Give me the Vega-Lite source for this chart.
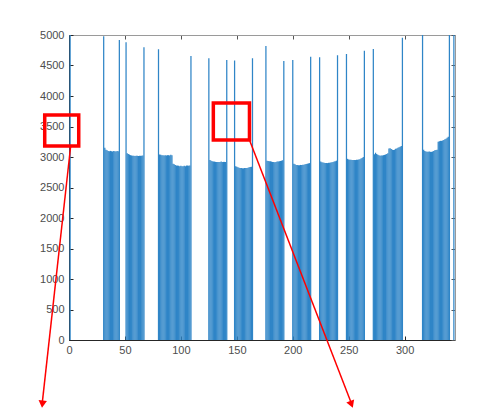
{
  "$schema": "https://vega.github.io/schema/vega-lite/v6.json",
  "width": 386,
  "height": 305,
  "autosize": {"type": "none"},
  "padding": {"left": 69, "top": 35, "right": 48, "bottom": 77},
  "background": "white",
  "config": {
    "view": {"stroke": null},
    "scale": {"continuousPadding": 0},
    "axis": {"labelFont": "Liberation Sans", "labelFontSize": 11, "labelColor": "#4D4D4D", "grid": false, "title": null, "format": "d"}
  },
  "resolve": {"axis": {"x": "independent", "y": "independent"}},
  "layer": [
    {
      "data": {"values": [
        {"x":1,"v":5000},
        {"x":31,"v":4980},{"x":32,"v":3150},{"x":33,"v":3120},{"x":34,"v":3110},{"x":35,"v":3100},{"x":36,"v":3095},{"x":37,"v":3100},{"x":38,"v":3095},{"x":39,"v":3090},{"x":40,"v":3100},{"x":41,"v":3095},{"x":42,"v":3090},{"x":43,"v":3100},{"x":44,"v":3095},{"x":45,"v":4920},
        {"x":51,"v":4880},{"x":52,"v":3060},{"x":53,"v":3050},{"x":54,"v":3040},{"x":55,"v":3030},{"x":56,"v":3025},{"x":57,"v":3020},{"x":58,"v":3020},{"x":59,"v":3015},{"x":60,"v":3020},{"x":61,"v":3020},{"x":62,"v":3015},{"x":63,"v":3020},{"x":64,"v":3020},{"x":65,"v":3020},{"x":66,"v":3025},{"x":67,"v":4800},
        {"x":80,"v":4765},{"x":81,"v":3040},{"x":82,"v":3035},{"x":83,"v":3030},{"x":84,"v":3030},{"x":85,"v":3025},{"x":86,"v":3030},{"x":87,"v":3025},{"x":88,"v":3030},{"x":89,"v":3030},{"x":90,"v":3025},{"x":91,"v":3035},{"x":92,"v":3030},
        {"x":93,"v":2890},{"x":94,"v":2880},{"x":95,"v":2870},{"x":96,"v":2860},{"x":97,"v":2860},{"x":98,"v":2855},{"x":99,"v":2850},{"x":100,"v":2855},{"x":101,"v":2850},{"x":102,"v":2850},{"x":103,"v":2855},{"x":104,"v":2850},{"x":105,"v":2860},{"x":106,"v":2860},{"x":107,"v":2855},{"x":108,"v":2860},{"x":109,"v":4655},
        {"x":125,"v":4620},{"x":126,"v":2950},{"x":127,"v":2940},{"x":128,"v":2930},{"x":129,"v":2925},{"x":130,"v":2925},{"x":131,"v":2920},{"x":132,"v":2920},{"x":133,"v":2920},{"x":134,"v":2920},{"x":135,"v":2920},{"x":136,"v":2925},{"x":137,"v":2920},{"x":138,"v":2920},{"x":139,"v":2920},{"x":140,"v":2920},{"x":141,"v":4590},
        {"x":148,"v":4580},{"x":149,"v":2850},{"x":150,"v":2840},{"x":151,"v":2830},{"x":152,"v":2825},{"x":153,"v":2820},{"x":154,"v":2820},{"x":155,"v":2815},{"x":156,"v":2815},{"x":157,"v":2820},{"x":158,"v":2820},{"x":159,"v":2820},{"x":160,"v":2825},{"x":161,"v":2830},{"x":162,"v":2835},{"x":163,"v":2840},{"x":164,"v":4620},
        {"x":176,"v":4820},{"x":177,"v":2940},{"x":178,"v":2935},{"x":179,"v":2930},{"x":180,"v":2930},{"x":181,"v":2925},{"x":182,"v":2920},{"x":183,"v":2920},{"x":184,"v":2915},{"x":185,"v":2920},{"x":186,"v":2925},{"x":187,"v":2925},{"x":188,"v":2930},{"x":189,"v":2935},{"x":190,"v":2940},{"x":191,"v":2945},{"x":192,"v":4575},
        {"x":200,"v":4590},{"x":201,"v":2890},{"x":202,"v":2880},{"x":203,"v":2870},{"x":204,"v":2870},{"x":205,"v":2865},{"x":206,"v":2865},{"x":207,"v":2870},{"x":208,"v":2870},{"x":209,"v":2875},{"x":210,"v":2875},{"x":211,"v":2880},{"x":212,"v":2885},{"x":213,"v":2890},{"x":214,"v":2895},{"x":215,"v":2900},{"x":216,"v":4645},
        {"x":224,"v":4635},{"x":225,"v":2925},{"x":226,"v":2915},{"x":227,"v":2910},{"x":228,"v":2905},{"x":229,"v":2900},{"x":230,"v":2900},{"x":231,"v":2900},{"x":232,"v":2905},{"x":233,"v":2905},{"x":234,"v":2910},{"x":235,"v":2915},{"x":236,"v":2920},{"x":237,"v":2925},{"x":238,"v":2930},{"x":239,"v":2940},{"x":240,"v":4670},
        {"x":248,"v":4690},{"x":249,"v":2970},{"x":250,"v":2960},{"x":251,"v":2955},{"x":252,"v":2955},{"x":253,"v":2950},{"x":254,"v":2950},{"x":255,"v":2950},{"x":256,"v":2950},{"x":257,"v":2955},{"x":258,"v":2955},{"x":259,"v":2960},{"x":260,"v":2965},{"x":261,"v":2975},{"x":262,"v":2985},{"x":263,"v":3000},{"x":264,"v":4740},
        {"x":272,"v":4770},{"x":273,"v":3045},{"x":274,"v":3070},{"x":275,"v":3050},{"x":276,"v":3035},{"x":277,"v":3030},{"x":278,"v":3020},{"x":279,"v":3025},{"x":280,"v":3025},{"x":281,"v":3030},{"x":282,"v":3035},{"x":283,"v":3040},{"x":284,"v":3050},{"x":285,"v":3060},
        {"x":286,"v":3140},{"x":287,"v":3145},{"x":288,"v":3130},{"x":289,"v":3120},{"x":290,"v":3115},{"x":291,"v":3120},{"x":292,"v":3135},{"x":293,"v":3140},{"x":294,"v":3150},{"x":295,"v":3160},{"x":296,"v":3170},{"x":297,"v":3180},{"x":298,"v":4955},
        {"x":316,"v":5000},{"x":317,"v":3120},{"x":318,"v":3100},{"x":319,"v":3090},{"x":320,"v":3085},{"x":321,"v":3085},{"x":322,"v":3090},{"x":323,"v":3085},{"x":324,"v":3085},{"x":325,"v":3090},{"x":326,"v":3100},{"x":327,"v":3110},{"x":328,"v":3115},{"x":329,"v":3120},
        {"x":330,"v":3250},{"x":331,"v":3260},{"x":332,"v":3265},{"x":333,"v":3265},{"x":334,"v":3270},{"x":335,"v":3280},{"x":336,"v":3290},{"x":337,"v":3300},{"x":338,"v":3315},{"x":339,"v":3330},{"x":340,"v":5000},
        {"x":344,"v":5000}
      ]},
      "mark": {"type": "bar", "width": 1.25, "color": "#2F85C7", "clip": true},
      "encoding": {
        "x": {"field": "x", "type": "quantitative", "scale": {"domain": [0, 345], "nice": false, "zero": false, "padding": 0},
              "axis": {"orient": "bottom", "values": [0,50,100,150,200,250,300], "domainColor": "#262626", "tickColor": "#262626", "tickSize": -4, "labelPadding": 8, "labelFlush": false}},
        "y": {"field": "v", "type": "quantitative", "scale": {"domain": [0, 5000], "nice": false, "padding": 0},
              "axis": {"orient": "left", "values": [0,500,1000,1500,2000,2500,3000,3500,4000,4500,5000], "domainColor": "#262626", "tickColor": "#262626", "tickSize": -4, "labelPadding": 9, "labelFlush": false}}
      }
    },
    {
      "data": {"values": [{"x": 0, "v": 0}]},
      "mark": {"type": "point", "opacity": 0},
      "encoding": {
        "x": {"field": "x", "type": "quantitative", "scale": {"domain": [0, 345], "nice": false, "zero": false, "padding": 0},
              "axis": {"orient": "top", "values": [0,50,100,150,200,250,300], "labels": false, "domainColor": "#9A9A9A", "tickColor": "#555555", "tickSize": -4}},
        "y": {"field": "v", "type": "quantitative", "scale": {"domain": [0, 5000], "nice": false, "padding": 0},
              "axis": {"orient": "right", "values": [0,500,1000,1500,2000,2500,3000,3500,4000,4500,5000], "labels": false, "domainColor": "#9A9A9A", "tickColor": "#555555", "tickSize": -4}}
      }
    },
    {
      "data": {"values": [
        {"x": -21.7, "x2": 8.7, "y": 3690, "y2": 3180},
        {"x": 129, "x2": 161.3, "y": 3885, "y2": 3280}
      ]},
      "mark": {"type": "rect", "filled": false, "stroke": "#FF0000", "strokeWidth": 3.5, "clip": false},
      "encoding": {
        "x": {"field": "x", "type": "quantitative", "scale": {"domain": [0, 345], "nice": false, "zero": false, "padding": 0}, "axis": null},
        "x2": {"field": "x2"},
        "y": {"field": "y", "type": "quantitative", "scale": {"domain": [0, 5000], "nice": false, "padding": 0}, "axis": null},
        "y2": {"field": "y2"}
      }
    },
    {
      "data": {"values": [
        {"x": 1.5, "y": 3180, "x2": -23.9, "y2": -1030},
        {"x": 161.3, "y": 3280, "x2": 252.2, "y2": -1030}
      ]},
      "mark": {"type": "rule", "stroke": "#FF0000", "strokeWidth": 1.5, "clip": false},
      "encoding": {
        "x": {"field": "x", "type": "quantitative", "scale": {"domain": [0, 345], "nice": false, "zero": false, "padding": 0}, "axis": null},
        "x2": {"field": "x2"},
        "y": {"field": "y", "type": "quantitative", "scale": {"domain": [0, 5000], "nice": false, "padding": 0}, "axis": null},
        "y2": {"field": "y2"}
      }
    },
    {
      "data": {"values": [{"x": -23.8, "y": -1050}]},
      "mark": {"type": "point", "shape": "triangle-down", "filled": true, "color": "#FF0000", "opacity": 1, "size": 70, "angle": 6, "clip": false},
      "encoding": {
        "x": {"field": "x", "type": "quantitative", "scale": {"domain": [0, 345], "nice": false, "zero": false, "padding": 0}, "axis": null},
        "y": {"field": "y", "type": "quantitative", "scale": {"domain": [0, 5000], "nice": false, "padding": 0}, "axis": null}
      }
    },
    {
      "data": {"values": [{"x": 252.5, "y": -1054}]},
      "mark": {"type": "point", "shape": "triangle-down", "filled": true, "color": "#FF0000", "opacity": 1, "size": 70, "angle": 339, "clip": false},
      "encoding": {
        "x": {"field": "x", "type": "quantitative", "scale": {"domain": [0, 345], "nice": false, "zero": false, "padding": 0}, "axis": null},
        "y": {"field": "y", "type": "quantitative", "scale": {"domain": [0, 5000], "nice": false, "padding": 0}, "axis": null}
      }
    }
  ]
}
